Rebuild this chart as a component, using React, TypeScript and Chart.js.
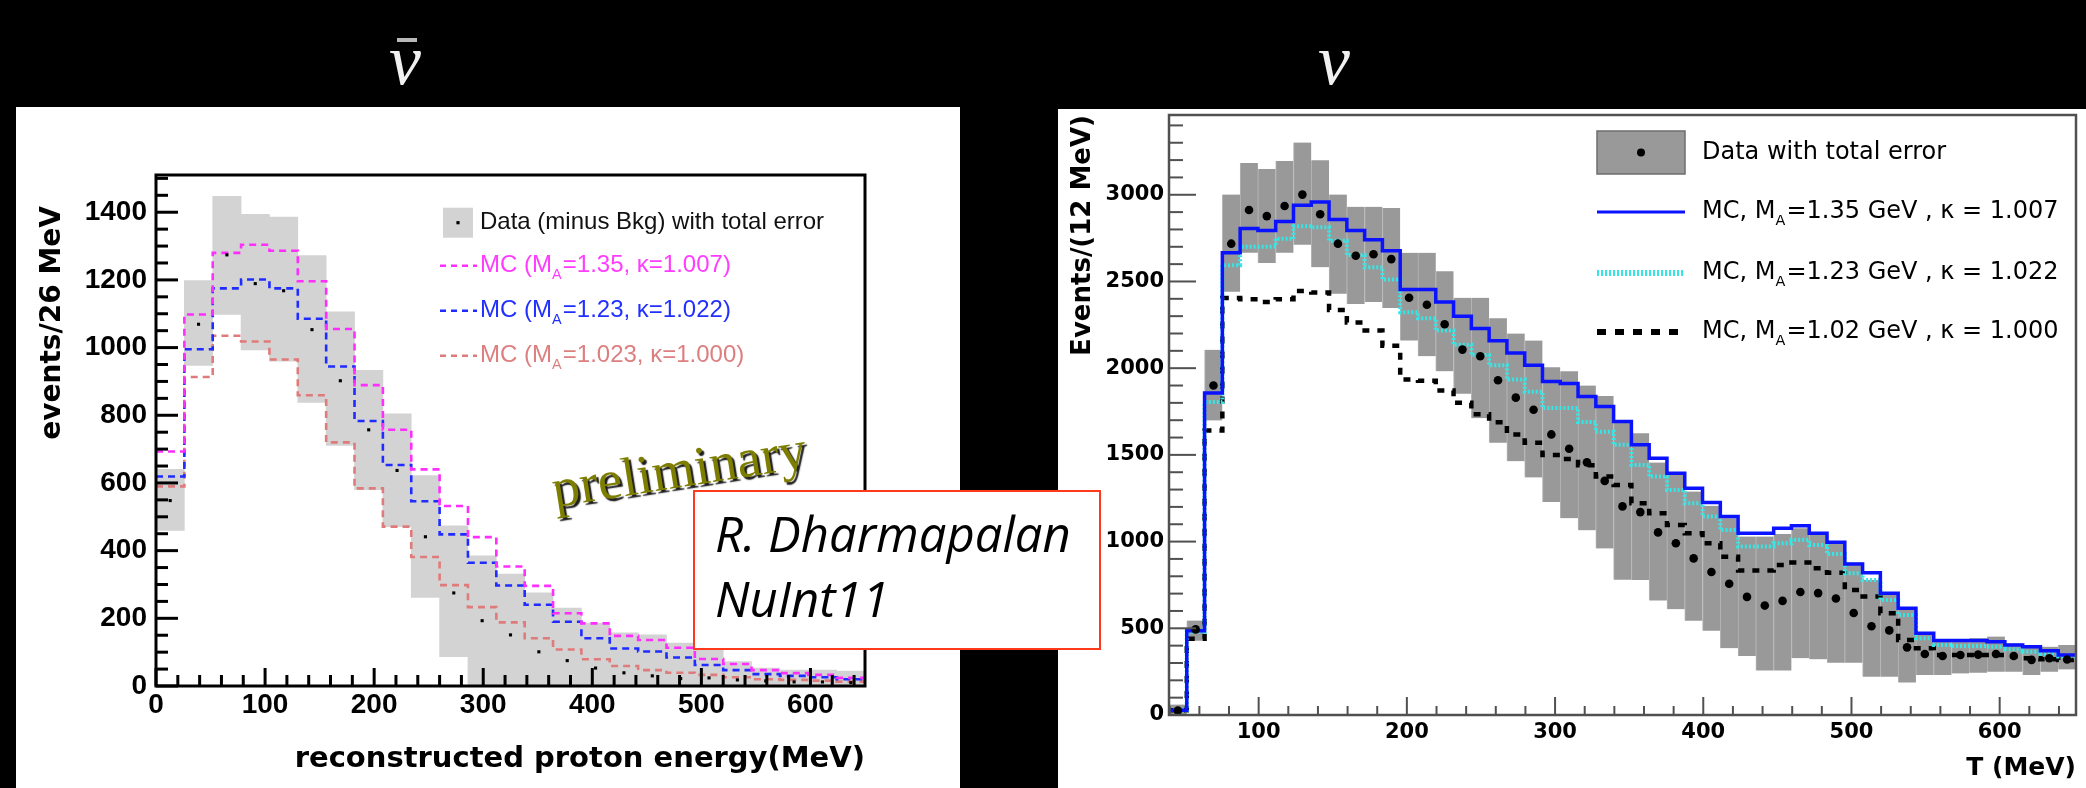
import React, { useEffect, useRef } from 'react';
import { Chart, registerables } from 'chart.js';

Chart.register(...registerables);

// ================= LEFT PANEL (anti-neutrino) =================
const LEFT_BIN_START = 0;
const LEFT_BIN_WIDTH = 26;
const leftDataValues = [548, 1069, 1274, 1189, 1168, 1053, 902, 757, 637, 441, 275, 193, 151, 101, 75, 53, 39, 30, 22, 24, 18, 15, 12, 12, 10];
const leftErrLow = [460, 947, 1098, 993, 960, 838, 711, 580, 471, 262, 87, 0, 0, 0, 0, 0, 0, 0, 0, 0, 0, 0, 0, 0, 0];
const leftErrHigh = [640, 1198, 1447, 1394, 1386, 1272, 1106, 933, 804, 622, 473, 385, 331, 275, 230, 186, 157, 151, 127, 107, 72, 53, 47, 47, 44];
const leftMC135 = [693, 1098, 1280, 1304, 1286, 1196, 1055, 889, 757, 640, 532, 440, 353, 296, 215, 185, 148, 136, 113, 80, 65, 47, 38, 33, 24];
const leftMC123 = [619, 995, 1175, 1201, 1175, 1085, 944, 783, 653, 546, 448, 364, 297, 240, 190, 141, 111, 102, 84, 62, 47, 35, 30, 26, 20];
const leftMC1023 = [590, 913, 1035, 1018, 965, 859, 720, 584, 471, 381, 298, 233, 188, 141, 108, 79, 59, 47, 39, 33, 26, 20, 18, 16, 13];
const leftXTicks = [0, 100, 200, 300, 400, 500, 600];
const leftYTicks = [0, 200, 400, 600, 800, 1000, 1200, 1400];
const leftLegendLabels = [
  'Data (minus Bkg) with total error',
  'MC (M_{A}=1.35, \u03BA=1.007)',
  'MC (M_{A}=1.23, \u03BA=1.022)',
  'MC (M_{A}=1.023, \u03BA=1.000)',
];
const leftXTitle = 'reconstructed proton energy(MeV)';
const leftYTitle = 'events/26 MeV';

// ================= RIGHT PANEL (neutrino) =================
const RIGHT_BIN_START = 39.5;
const RIGHT_BIN_WIDTH = 12;
const rightDataValues = [25, 494, 1900, 2718, 2912, 2877, 2935, 3001, 2888, 2718, 2648, 2657, 2629, 2406, 2366, 2253, 2107, 2069, 1930, 1830, 1760, 1618, 1535, 1457, 1350, 1203, 1170, 1053, 990, 903, 825, 757, 681, 631, 658, 709, 703, 672, 588, 512, 488, 390, 352, 340, 346, 348, 352, 340, 318, 327, 320];
const rightErrLow = [0, 428, 1699, 2441, 2665, 2606, 2665, 2712, 2582, 2429, 2370, 2382, 2347, 2159, 2069, 1982, 1852, 1711, 1570, 1464, 1370, 1229, 1135, 1065, 960, 780, 779, 660, 610, 544, 486, 385, 340, 256, 256, 327, 321, 302, 302, 221, 221, 187, 231, 231, 240, 244, 250, 250, 231, 250, 263];
const rightErrHigh = [60, 545, 2106, 3001, 3183, 3148, 3195, 3301, 3199, 3001, 2931, 2931, 2924, 2665, 2665, 2559, 2406, 2406, 2288, 2200, 2159, 2006, 1982, 1900, 1840, 1700, 1625, 1456, 1389, 1289, 1206, 1135, 1029, 1029, 1044, 1077, 1038, 990, 879, 779, 692, 606, 475, 433, 433, 442, 452, 413, 404, 394, 404];
const rightMC135 = [28, 486, 1857, 2665, 2806, 2794, 2846, 2940, 2959, 2858, 2794, 2740, 2677, 2453, 2453, 2382, 2300, 2229, 2158, 2088, 2017, 1923, 1911, 1836, 1779, 1692, 1558, 1481, 1394, 1308, 1225, 1144, 1048, 1048, 1077, 1092, 1048, 996, 871, 821, 702, 615, 471, 429, 429, 429, 423, 404, 394, 371, 346];
const rightMC123 = [28, 480, 1805, 2594, 2700, 2700, 2747, 2818, 2813, 2735, 2653, 2582, 2511, 2323, 2288, 2217, 2135, 2076, 2017, 1935, 1864, 1770, 1770, 1690, 1634, 1558, 1442, 1375, 1298, 1221, 1144, 1067, 971, 971, 990, 1010, 981, 929, 817, 779, 663, 577, 442, 404, 398, 398, 394, 379, 365, 352, 337];
const rightMC102 = [28, 439, 1640, 2405, 2398, 2382, 2398, 2445, 2436, 2335, 2264, 2217, 2130, 1935, 1928, 1871, 1800, 1734, 1688, 1617, 1570, 1499, 1476, 1440, 1375, 1327, 1221, 1163, 1096, 1048, 990, 913, 833, 833, 865, 879, 846, 821, 721, 683, 587, 433, 385, 346, 346, 346, 346, 337, 327, 321, 317];
const rightXTicks = [100, 200, 300, 400, 500, 600];
const rightYTicks = [0, 500, 1000, 1500, 2000, 2500, 3000];
const rightLegendLabels = [
  'Data with total error',
  'MC, M_{A}=1.35 GeV , \u03BA = 1.007',
  'MC, M_{A}=1.23 GeV , \u03BA = 1.022',
  'MC, M_{A}=1.02 GeV , \u03BA = 1.000',
];
const rightXTitle = 'T (MeV)';
const rightYTitle = 'Events/(12 MeV)';

const panelTitles = ['\u03BD', '\u03BD'];
const creditLines = ['R. Dharmapalan', 'NuInt11'];
const stampText = 'preliminary';

// ---------- helpers building library tables ----------
const stepLine = (start: number, w: number, v: number[]) => {
  const pts = v.map((y, i) => ({ x: start + i * w, y }));
  pts.push({ x: start + v.length * w, y: v[v.length - 1] });
  return pts;
};
const centers = (start: number, w: number, v: number[]) => v.map((y, i) => ({ x: start + (i + 0.5) * w, y }));
const band = (start: number, w: number, lo: number[], hi: number[]) =>
  lo.map((l, i) => ({ x: start + (i + 0.5) * w, y: [l, hi[i]] }));

function drawRich(ctx: CanvasRenderingContext2D, text: string, x: number, y: number, family: string, size: number, color: string, weight = 'normal') {
  const parts: { t: string; sub: boolean }[] = [];
  const re = /_\{([^}]*)\}/g;
  let last = 0;
  let m: RegExpExecArray | null;
  while ((m = re.exec(text))) {
    if (m.index > last) parts.push({ t: text.slice(last, m.index), sub: false });
    parts.push({ t: m[1], sub: true });
    last = m.index + m[0].length;
  }
  if (last < text.length) parts.push({ t: text.slice(last), sub: false });
  ctx.fillStyle = color;
  ctx.textAlign = 'left';
  ctx.textBaseline = 'middle';
  let cx = x;
  for (const p of parts) {
    const s = p.sub ? size * 0.6 : size;
    ctx.font = `${weight} ${s}px ${family}`;
    ctx.fillText(p.t, cx, p.sub ? y + size * 0.38 : y);
    cx += ctx.measureText(p.t).width + (p.sub ? size * 0.05 : 0);
  }
}

const rootDecor = {
  id: 'rootDecor',
  afterDatasetsDraw(chart: any, _args: any, o: any) {
    const { ctx, chartArea: a } = chart;
    const xs = chart.scales.x;
    const ys = chart.scales.y;
    ctx.save();
    ctx.strokeStyle = o.tickColor;
    ctx.lineWidth = o.tickWidth;
    ctx.lineCap = 'butt';
    const near = (arr: number[], v: number) => arr.some((t) => Math.abs(t - v) < 1e-6);
    for (let v = Math.ceil(xs.min / o.xMinorStep) * o.xMinorStep; v <= xs.max + 1e-9; v += o.xMinorStep) {
      const len = near(o.xMajor, v) ? o.xMajorLen : o.xMinorLen;
      const px = xs.getPixelForValue(v);
      ctx.beginPath();
      ctx.moveTo(px, a.bottom);
      ctx.lineTo(px, a.bottom - len);
      ctx.stroke();
    }
    for (let v = Math.ceil(ys.min / o.yMinorStep) * o.yMinorStep; v <= ys.max + 1e-9; v += o.yMinorStep) {
      const len = near(o.yMajor, v) ? o.yMajorLen : o.yMinorLen;
      const py = ys.getPixelForValue(v);
      ctx.beginPath();
      ctx.moveTo(a.left, py);
      ctx.lineTo(a.left + len, py);
      ctx.stroke();
    }
    ctx.strokeStyle = o.frameColor;
    ctx.lineWidth = o.frameWidth;
    ctx.strokeRect(a.left, a.top, a.right - a.left, a.bottom - a.top);

    // legend
    const L = o.legend;
    for (const it of L.items) {
      const y = a.top + it.dy;
      if (it.kind === 'box') {
        ctx.fillStyle = it.fill;
        ctx.fillRect(a.left + it.x0, y - it.h / 2, it.x1 - it.x0, it.h);
        if (it.stroke) {
          ctx.strokeStyle = it.stroke;
          ctx.lineWidth = 1.5;
          ctx.setLineDash([]);
          ctx.strokeRect(a.left + it.x0, y - it.h / 2, it.x1 - it.x0, it.h);
        }
        ctx.fillStyle = '#000';
        if (it.dotSquare) {
          ctx.fillRect(a.left + (it.x0 + it.x1) / 2 - it.dot, y - it.dot, it.dot * 2, it.dot * 2);
        } else {
          ctx.beginPath();
          ctx.arc(a.left + (it.x0 + it.x1) / 2, y, it.dot, 0, Math.PI * 2);
          ctx.fill();
        }
      } else {
        ctx.strokeStyle = it.lineColor;
        ctx.lineWidth = it.lineWidth;
        ctx.setLineDash(it.dash || []);
        ctx.beginPath();
        ctx.moveTo(a.left + it.x0, y);
        ctx.lineTo(a.left + it.x1, y);
        ctx.stroke();
        ctx.setLineDash([]);
      }
      drawRich(ctx, it.label, a.left + L.textX, y, L.family, L.size, it.textColor);
    }

    // axis titles
    for (const t of o.titles) {
      ctx.save();
      ctx.font = t.font;
      ctx.fillStyle = '#000';
      ctx.textBaseline = 'middle';
      ctx.textAlign = 'right';
      if (t.kind === 'x') {
        ctx.fillText(t.text, a.right, chart.height - t.fromBottom);
      } else {
        ctx.translate(t.x, a.top + t.dy);
        ctx.rotate(-Math.PI / 2);
        ctx.fillText(t.text, 0, 0);
      }
      ctx.restore();
    }

    // stamp
    if (o.stamp) {
      const s = o.stamp;
      ctx.translate(xs.getPixelForValue(s.x), ys.getPixelForValue(s.y));
      ctx.rotate((s.angle * Math.PI) / 180);
      ctx.font = s.font;
      ctx.textAlign = 'center';
      ctx.textBaseline = 'middle';
      ctx.shadowColor = 'rgba(0,0,0,0.9)';
      ctx.shadowOffsetX = 2.5;
      ctx.shadowOffsetY = 2.5;
      ctx.shadowBlur = 1.2;
      ctx.fillStyle = s.color;
      ctx.fillText(s.text, 0, 0);
    }
    ctx.restore();
  },
};

function fixedAxis(opts: any) {
  const { ticks, min, max, size, isX, tickFont, tickPad } = opts;
  return {
    type: 'linear',
    min,
    max,
    offset: false,
    grid: { display: false, drawTicks: false },
    border: { display: false },
    afterBuildTicks: (s: any) => {
      s.ticks = ticks.map((v: number) => ({ value: v }));
    },
    afterFit: (s: any) => {
      if (isX) s.height = size;
      else s.width = size;
      s.paddingLeft = 0;
      s.paddingRight = 0;
      s.paddingTop = 0;
      s.paddingBottom = 0;
    },
    ticks: { color: '#000', font: tickFont, padding: tickPad, maxRotation: 0, autoSkip: false, callback: (v: any) => String(v) },
    title: { display: false },
  };
}

function leftConfig(): any {
  const W = LEFT_BIN_WIDTH;
  const S = LEFT_BIN_START;
  return {
    type: 'bar',
    data: {
      datasets: [
        { type: 'bar', data: band(S, W, leftErrLow, leftErrHigh), backgroundColor: '#d3d3d3', borderWidth: 0, barPercentage: 1, categoryPercentage: 1, grouped: false, order: 5 },
        { type: 'line', data: stepLine(S, W, leftMC1023), borderColor: '#e07b7b', borderWidth: 2.6, borderDash: [7, 5], stepped: 'before', pointRadius: 0, fill: false, order: 4 },
        { type: 'line', data: stepLine(S, W, leftMC123), borderColor: '#1f2bff', borderWidth: 2.6, borderDash: [7, 5], stepped: 'before', pointRadius: 0, fill: false, order: 3 },
        { type: 'line', data: stepLine(S, W, leftMC135), borderColor: '#ff2eff', borderWidth: 2.6, borderDash: [7, 5], stepped: 'before', pointRadius: 0, fill: false, order: 2 },
        { type: 'scatter', data: centers(S, W, leftDataValues), pointStyle: 'rect', pointRadius: 2.2, backgroundColor: '#000', borderWidth: 0, order: 1 },
      ],
    },
    options: {
      animation: false,
      responsive: false,
      events: [],
      layout: { padding: { top: 68, right: 95, left: 0, bottom: 0 } },
      plugins: {
        legend: { display: false },
        tooltip: { enabled: false },
        rootDecor: {
          frameColor: '#000', frameWidth: 3, tickColor: '#000', tickWidth: 3,
          xMajor: leftXTicks, xMinorStep: 20, xMajorLen: 18, xMinorLen: 11,
          yMajor: leftYTicks, yMinorStep: 50, yMajorLen: 22, yMinorLen: 12,
          titles: [
            { kind: 'y', text: leftYTitle, font: 'bold 28px "DejaVu Sans", sans-serif', x: 37, dy: 31 },
          ],
          legend: {
            family: '"Liberation Sans", Arial, sans-serif', size: 24, textX: 324,
            items: [
              { kind: 'box', dy: 47.7, x0: 287, x1: 317, h: 30, fill: '#d3d3d3', dot: 1.6, dotSquare: true, label: leftLegendLabels[0], textColor: '#111' },
              { kind: 'line', dy: 90.7, x0: 284, x1: 321, lineColor: '#ff2eff', lineWidth: 2.4, dash: [6, 5], label: leftLegendLabels[1], textColor: '#ff3cff' },
              { kind: 'line', dy: 135.7, x0: 284, x1: 321, lineColor: '#1f2bff', lineWidth: 2.4, dash: [6, 5], label: leftLegendLabels[2], textColor: '#2230ff' },
              { kind: 'line', dy: 180.7, x0: 284, x1: 321, lineColor: '#e07b7b', lineWidth: 2.4, dash: [6, 5], label: leftLegendLabels[3], textColor: '#dc7f7f' },
            ],
          },
          stamp: { text: stampText, x: 480, y: 630, angle: -9, font: '55px "Liberation Serif", serif', color: '#7d7d00' },
        },
      },
      scales: {
        x: fixedAxis({
          ticks: leftXTicks, min: 0, max: 650, size: 102, isX: true,
          tickFont: { family: '"Liberation Sans", Arial, sans-serif', weight: 'bold', size: 28 }, tickPad: 2,
        }),
        y: fixedAxis({
          ticks: leftYTicks, min: 0, max: 1510, size: 140, isX: false,
          tickFont: { family: '"Liberation Sans", Arial, sans-serif', weight: 'bold', size: 28 }, tickPad: 9,
        }),
      },
    },
    plugins: [rootDecor],
  };
}

function rightConfig(): any {
  const W = RIGHT_BIN_WIDTH;
  const S = RIGHT_BIN_START;
  return {
    type: 'bar',
    data: {
      datasets: [
        { type: 'bar', data: band(S, W, rightErrLow, rightErrHigh), backgroundColor: '#999999', borderColor: '#b4b4b4', borderWidth: { left: 1, right: 0, top: 0, bottom: 0 }, borderSkipped: false, barPercentage: 1, categoryPercentage: 1, grouped: false, order: 5 },
        { type: 'line', data: stepLine(S, W, rightMC102), borderColor: '#000', borderWidth: 4.5, borderDash: [7, 8], stepped: 'before', pointRadius: 0, fill: false, order: 4 },
        { type: 'line', data: stepLine(S, W, rightMC123), borderColor: '#35e6e6', borderWidth: 4, borderDash: [2, 2], stepped: 'before', pointRadius: 0, fill: false, order: 3 },
        { type: 'line', data: stepLine(S, W, rightMC135), borderColor: '#0a12ff', borderWidth: 3.5, stepped: 'before', pointRadius: 0, fill: false, order: 2 },
        { type: 'scatter', data: centers(S, W, rightDataValues), pointStyle: 'circle', pointRadius: 4.3, backgroundColor: '#000', borderWidth: 0, order: 1 },
      ],
    },
    options: {
      animation: false,
      responsive: false,
      events: [],
      layout: { padding: { top: 6, right: 10, left: 0, bottom: 0 } },
      plugins: {
        legend: { display: false },
        tooltip: { enabled: false },
        rootDecor: {
          frameColor: '#505050', frameWidth: 2.5, tickColor: '#505050', tickWidth: 2,
          xMajor: rightXTicks, xMinorStep: 20, xMajorLen: 18, xMinorLen: 9,
          yMajor: rightYTicks, yMinorStep: 100, yMajorLen: 27, yMinorLen: 14,
          titles: [
            { kind: 'x', text: rightXTitle, font: 'bold 25px "DejaVu Sans", sans-serif', fromBottom: 20 },
            { kind: 'y', text: rightYTitle, font: 'bold 26px "DejaVu Sans", sans-serif', x: 25, dy: 0 },
          ],
          legend: {
            family: '"DejaVu Sans", sans-serif', size: 24, textX: 533,
            items: [
              { kind: 'box', dy: 37.5, x0: 428, x1: 516, h: 43, fill: '#999999', stroke: '#6e6e6e', dot: 4, label: rightLegendLabels[0], textColor: '#000' },
              { kind: 'line', dy: 97, x0: 428, x1: 516, lineColor: '#0a12ff', lineWidth: 3, label: rightLegendLabels[1], textColor: '#000' },
              { kind: 'line', dy: 158, x0: 428, x1: 516, lineColor: '#35e6e6', lineWidth: 6, dash: [2, 2], label: rightLegendLabels[2], textColor: '#000' },
              { kind: 'line', dy: 217, x0: 428, x1: 516, lineColor: '#000', lineWidth: 6, dash: [9, 9], label: rightLegendLabels[3], textColor: '#000' },
            ],
          },
        },
      },
      scales: {
        x: fixedAxis({
          ticks: rightXTicks, min: RIGHT_BIN_START, max: 651.5, size: 73, isX: true,
          tickFont: { family: '"DejaVu Sans", sans-serif', weight: 'bold', size: 21 }, tickPad: 5,
        }),
        y: fixedAxis({
          ticks: rightYTicks, min: 0, max: 3460, size: 111, isX: false,
          tickFont: { family: '"DejaVu Sans", sans-serif', weight: 'bold', size: 21 }, tickPad: 5,
        }),
      },
    },
    plugins: [rootDecor],
  };
}

function ChartCanvas({ make, left, top, width, height }: { make: () => any; left: number; top: number; width: number; height: number }) {
  const ref = useRef<HTMLCanvasElement>(null);
  useEffect(() => {
    const chart = new Chart(ref.current as HTMLCanvasElement, make());
    return () => chart.destroy();
  }, [make]);
  return <canvas ref={ref} width={width} height={height} style={{ position: 'absolute', left, top, width, height }} />;
}

export default function App() {
  useEffect(() => {
    document.body.style.margin = '0';
    document.body.style.background = '#000';
  }, []);
  const titleStyle: React.CSSProperties = {
    position: 'absolute',
    fontFamily: '"Liberation Serif", "DejaVu Serif", serif',
    fontStyle: 'italic',
    fontSize: 72,
    lineHeight: '72px',
    color: '#f0f0f0',
    width: 60,
    textAlign: 'center',
  };
  return (
    <div style={{ position: 'relative', width: 2086, height: 788, background: '#000', overflow: 'hidden' }}>
      <div style={{ ...titleStyle, left: 375, top: 24 }}>
        <span style={{ position: 'relative', display: 'inline-block' }}>
          <span style={{ position: 'absolute', left: 8, top: 14, width: 20, height: 4, background: '#b8b8b8' }} />
          {panelTitles[0]}
        </span>
      </div>
      <div style={{ ...titleStyle, left: 1304, top: 24 }}>{panelTitles[1]}</div>

      <div style={{ position: 'absolute', left: 16, top: 107, width: 944, height: 681, background: '#fff' }} />
      <ChartCanvas make={leftConfig} left={16} top={107} width={944} height={681} />
      <div
        style={{
          position: 'absolute',
          left: 265,
          width: 600,
          top: 739,
          height: 36,
          lineHeight: '36px',
          textAlign: 'right',
          whiteSpace: 'nowrap',
          fontFamily: '"DejaVu Sans", sans-serif',
          fontWeight: 'bold',
          fontSize: 29,
          color: '#000',
        }}
      >
        {leftXTitle}
      </div>

      <div style={{ position: 'absolute', left: 1058, top: 109, width: 1028, height: 679, background: '#fff' }} />
      <ChartCanvas make={rightConfig} left={1058} top={109} width={1028} height={679} />

      <div
        style={{
          position: 'absolute',
          left: 693,
          top: 490,
          width: 404,
          height: 156,
          border: '2px solid #ff3a1c',
          background: '#fff',
          fontFamily: '"Open Sans", "Noto Sans", sans-serif',
          fontStyle: 'italic',
          fontSize: 49,
          lineHeight: '65px',
          color: '#000',
        }}
      >
        <div style={{ position: 'absolute', left: 20, top: 9, whiteSpace: 'nowrap' }}>{creditLines[0]}</div>
        <div style={{ position: 'absolute', left: 20, top: 74, whiteSpace: 'nowrap' }}>{creditLines[1]}</div>
      </div>
    </div>
  );
}
